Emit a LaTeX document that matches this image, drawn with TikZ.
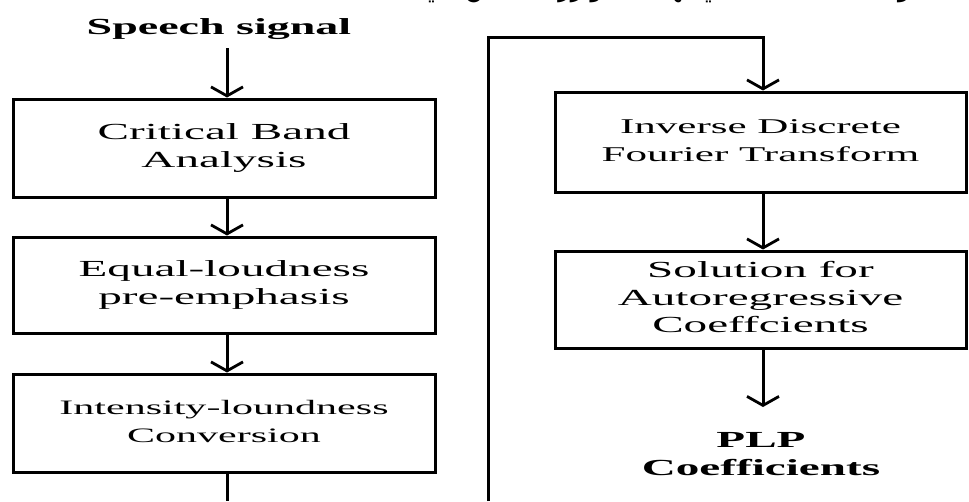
\documentclass[tikz,border=0pt]{standalone}
\usepackage{fontspec}
\setmainfont{Liberation Serif}
\newfontfamily\arabicfont[Script=Arabic]{DejaVu Sans}
\TeXXeTstate=1
\usetikzlibrary{arrows.meta}
\newcommand{\wide}[2][23]{\scalebox{2.05}[1]{\fontsize{#1}{27.5}\selectfont\begin{tabular}{@{}c@{}}#2\end{tabular}}}
\tikzset{
  blk/.style={draw, line width=3pt, inner sep=0pt},
  conn/.style={line width=3pt},
  arr/.style={conn, -{Straight Barb[length=9pt,width=32pt,line width=2.8pt]}},
}
\begin{document}
\begin{tikzpicture}[x=1pt,y=-1pt]
\useasboundingbox (0,0) rectangle (969,501);
\fill[white] (0,0) rectangle (969,501);
% cut-off caption line (only its lower edge is in the picture)
\begin{scope}
\clip (0,0) rectangle (969,12);
\node[anchor=base, inner sep=0pt, font=\arabicfont\fontsize{26}{30}\selectfont] (cap) at (605,-4) {\beginR والمخطط الانسيابي لهذه الخوارزمية مبين في الشكل (٣)\endR};
\end{scope}
% left column
\node[anchor=base, inner sep=0pt] (sp) at (219,34) {\scalebox{2.0}[1]{\fontsize{23}{27.5}\selectfont\bfseries Speech signal}};
\node[blk, minimum width=422pt, minimum height=98pt] (b1) at (224,148) {\wide{Critical Band\\Analysis}};
\node[blk, minimum width=422pt, minimum height=96pt] (b2) at (224,285) {\wide{Equal-loudness\\pre-emphasis}};
\node[blk, minimum width=422pt, minimum height=98pt] (b3) at (224,423) {\wide[20.5]{Intensity-loundness\\Conversion}};
\coordinate (ls) at (227,48);
\coordinate (le) at (227,501);
\draw[arr] (ls) -- (ls |- b1.north);
\draw[arr] (b1.south -| ls) -- (b2.north -| ls);
\draw[arr] (b2.south -| ls) -- (b3.north -| ls);
\draw[conn] (b3.south -| ls) -- (le);
% right column
\node[blk, minimum width=411pt, minimum height=100pt] (r1) at (760.5,142) {\wide[21]{Inverse Discrete\\Fourier Transform}};
\node[blk, minimum width=411pt, minimum height=97pt] (r2) at (760.5,299.5) {\wide{Solution for\\Autoregressive\\Coeffcients}};
\coordinate (lb) at (488,501);
\coordinate (rt) at (763,37);
\coordinate (pe) at (763,407);
\draw[arr] (lb) -- (rt -| lb) -- (rt) -- (rt |- r1.north);
\draw[arr] (r1.south -| rt) -- (r2.north -| rt);
\draw[arr] (r2.south -| rt) -- (pe);
\node[inner sep=0pt] (plp) at (761,456) {\scalebox{2.05}[1]{\fontsize{23}{27.5}\selectfont\bfseries\begin{tabular}{@{}c@{}}PLP\\Coefficients\end{tabular}}};
\end{tikzpicture}
\end{document}
